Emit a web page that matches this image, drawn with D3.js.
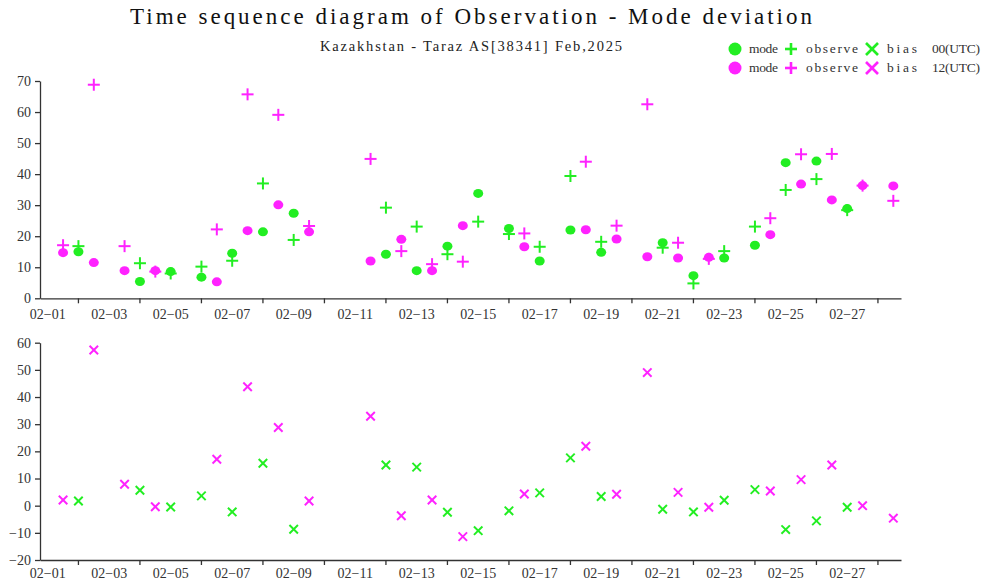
<!DOCTYPE html>
<html>
<head>
<meta charset="utf-8">
<script src="https://cdn.jsdelivr.net/npm/d3@7"></script>
<style>
  body { margin: 0; background: #fff; }
  svg text { font-family: "Liberation Serif", "DejaVu Serif", serif; }
</style>
</head>
<body>
<div id="chart"></div>
<script>
// half-day slots, 02-01 00UTC .. 02-28 12UTC
var days = d3.range(1, 29).map(function(d){ return "02-" + (d < 10 ? "0" + d : d); });
var slots = [];
days.forEach(function(d){ slots.push(d + " 00"); slots.push(d + " 12"); });

// 00 UTC (null = no data)
var mode00 = [null, 15.0, null, 5.4, 8.6, 6.8, 14.5, 21.4, 27.4, null, null, 14.2, 8.9, 16.8,
              33.8, 22.5, 12.0, 22.0, 14.8, null, 17.9, 7.3, 13.0, 17.1, 43.7, 44.2, 28.9, null];
var obs00  = [null, 16.8, null, 11.3, 8.0, 10.2, 12.1, 37.0, 18.8, null, null, 29.2, 23.1, 14.2,
              24.7, 20.7, 16.6, 39.4, 18.2, null, 16.3, 4.8, 15.2, 23.1, 34.9, 38.4, 28.4, null];
var bias00 = [null, 1.7, null, 5.7, -0.5, 3.6, -2.3, 15.6, -8.7, null, null, 15.0, 14.2, -2.4,
              -9.2, -1.9, 4.7, 17.6, 3.4, null, -1.3, -2.3, 2.0, 5.9, -8.8, -5.6, -0.6, null];
// 12 UTC
var mode12 = [14.7, 11.5, 8.9, 8.9, null, 5.3, 21.8, 30.1, 21.4, null, 12.0, 19.0, 8.9, 23.4,
              null, 16.6, null, 22.1, 19.1, 13.4, 13.0, 13.2, null, 20.5, 36.8, 31.7, 36.3, 36.2];
var obs12  = [17.1, 68.8, 16.8, 8.6, null, 22.2, 65.7, 59.1, 23.3, null, 44.9, 15.2, 11.0, 11.8,
              null, 20.9, null, 44.0, 23.4, 62.5, 17.9, 12.7, null, 25.8, 46.4, 46.5, 36.3, 31.4];
var bias12 = [2.1, 57.3, 7.9, -0.4, null, 17.1, 43.8, 28.8, 1.7, null, 32.9, -3.7, 2.1, -11.4,
              null, 4.3, null, 21.9, 4.2, 49.0, 4.9, -0.6, null, 5.4, 9.6, 15.0, 0.0, -4.6];

var topTicks = [0, 10, 20, 30, 40, 50, 60, 70];
var botTicks = [-20, -10, 0, 10, 20, 30, 40, 50, 60];

var green = "#22ee22", magenta = "#ff22ff";

var width = 987, height = 581;
var svg = d3.select("#chart").append("svg")
    .attr("width", width)
    .attr("height", height);

var x = d3.scaleBand().domain(slots).range([40, 901]).padding(0);
var cx = function(s){ return x(s) + x.bandwidth() / 2; };

var yTop = d3.scaleLinear().domain([0, 70]).range([298.3, 81]);
var yBot = d3.scaleLinear().domain([-20, 60]).range([560, 342.7]);

// title
svg.append("text").attr("x", 130).attr("y", 24)
    .attr("textLength", 682).attr("lengthAdjust", "spacing")
    .style("font-size", "23px").style("fill", "#111")
    .text("Time sequence diagram of Observation - Mode deviation");
svg.append("text").attr("x", 320).attr("y", 51)
    .attr("textLength", 302).attr("lengthAdjust", "spacing")
    .style("font-size", "14.5px").style("fill", "#222")
    .text("Kazakhstan - Taraz AS[38341] Feb,2025");

function drawAxes(y, ticks, baseY, pad){
    var g = svg.append("g");
    g.append("g").attr("transform", "translate(40,0)")
        .call(d3.axisLeft(y).tickValues(ticks).tickSize(5).tickSizeOuter(0).tickPadding(4)
            .tickFormat(function(v){ return String(v).replace("-", "\u2212"); }));
    var tickSlots = slots.filter(function(s, i){ return i % 4 == 2; });
    var labelSlots = slots.filter(function(s, i){ return i % 4 == 0; });
    g.append("g").attr("transform", "translate(0," + baseY + ")")
        .call(d3.axisBottom(x).tickValues(tickSlots).tickFormat("").tickSize(5).tickSizeOuter(0));
    var xl = g.append("g").attr("transform", "translate(0," + baseY + ")")
        .call(d3.axisBottom(x).tickValues(labelSlots).tickSize(0).tickPadding(pad)
            .tickFormat(function(s){ return s.slice(0, 5).replace("-", "\u2212"); }));
    xl.select(".domain").remove();
    g.selectAll(".domain").style("stroke", "#333").style("stroke-width", 1.3);
    g.selectAll(".tick line").style("stroke", "#333").style("stroke-width", 1.3);
    g.selectAll(".tick text").style("font-family", "'Liberation Serif', serif")
        .style("font-size", "14px").style("fill", "#333");
}
drawAxes(yTop, topTicks, 298.3, 11);
drawAxes(yBot, botTicks, 560, 8);

function toPoints(vals, hour){
    var pts = [];
    vals.forEach(function(v, i){
        if (v !== null) pts.push({ s: days[i] + " " + hour, v: v });
    });
    return pts;
}

function circles(vals, hour, color){
    svg.append("g").selectAll("ellipse").data(toPoints(vals, hour)).enter().append("ellipse")
        .attr("cx", function(d){ return cx(d.s); })
        .attr("cy", function(d){ return yTop(d.v); })
        .attr("rx", 5).attr("ry", 4.5)
        .style("fill", color);
}

function crosses(vals, hour, color, y, rot){
    var g = svg.append("g");
    toPoints(vals, hour).forEach(function(d){
        var k = 6;
        var p = g.append("g").attr("transform", "translate(" + cx(d.s) + "," + y(d.v) + ") rotate(" + rot + ")");
        p.append("line").attr("x1", -k).attr("x2", k).attr("y1", 0).attr("y2", 0)
            .style("stroke", color).style("stroke-width", 2);
        p.append("line").attr("x1", 0).attr("x2", 0).attr("y1", -k).attr("y2", k)
            .style("stroke", color).style("stroke-width", 2);
    });
}

circles(mode00, "00", green);
crosses(obs00, "00", green, yTop, 0);
circles(mode12, "12", magenta);
crosses(obs12, "12", magenta, yTop, 0);
crosses(bias00, "00", green, yBot, 45);
crosses(bias12, "12", magenta, yBot, 45);

// legend
var legendRows = [{ color: green, label: "00(UTC)", y: 49 }, { color: magenta, label: "12(UTC)", y: 68 }];
legendRows.forEach(function(r){
    var g = svg.append("g");
    var txt = function(x0, w, s){
        g.append("text").attr("x", x0).attr("y", r.y + 4)
            .attr("textLength", w).attr("lengthAdjust", "spacing")
            .style("font-size", "13.5px").style("fill", "#333").text(s);
    };
    g.append("circle").attr("cx", 735).attr("cy", r.y).attr("r", 6.5).style("fill", r.color);
    txt(749, 29, "mode");
    g.append("line").attr("x1", 785).attr("x2", 797).attr("y1", r.y).attr("y2", r.y)
        .style("stroke", r.color).style("stroke-width", 2.6);
    g.append("line").attr("x1", 791).attr("x2", 791).attr("y1", r.y - 6).attr("y2", r.y + 6)
        .style("stroke", r.color).style("stroke-width", 2.6);
    txt(806, 52, "observe");
    g.append("line").attr("x1", 866).attr("x2", 878).attr("y1", r.y - 6).attr("y2", r.y + 6)
        .style("stroke", r.color).style("stroke-width", 2.6);
    g.append("line").attr("x1", 866).attr("x2", 878).attr("y1", r.y + 6).attr("y2", r.y - 6)
        .style("stroke", r.color).style("stroke-width", 2.6);
    txt(887, 30, "bias");
    txt(932, 48, r.label);
});
</script>
</body>
</html>
